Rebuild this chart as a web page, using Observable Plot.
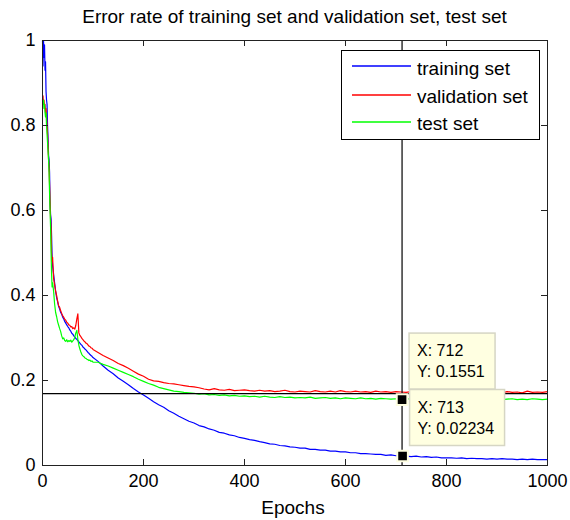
<!DOCTYPE html>
<html>
<head>
<meta charset="utf-8">
<script src="https://cdn.jsdelivr.net/npm/d3@7"></script>
<script src="https://cdn.jsdelivr.net/npm/@observablehq/plot@0.6"></script>
<style>
  body { margin: 0; background: #fff; font-family: "Liberation Sans", Arial, sans-serif; }
  #wrap { position: relative; width: 570px; height: 520px; overflow: hidden; }
  #title { position: absolute; left: 42px; width: 505px; top: 6px; text-align: center; font-size: 19px; line-height: 22px; color: #000; white-space: nowrap; }
  #chart { position: absolute; left: 0; top: 0; }
</style>
</head>
<body>
<div id="wrap">
  <div id="chart"></div>
  <div id="title"></div>
</div>
<script>
// ---------- data ----------
const titleText = "Error rate of training set and validation set, test set";
const xLabel = "Epochs";
const seriesNames = ["training set", "validation set", "test set"];
const seriesColors = ["#0000ff", "#ff0000", "#00ff00"];
const xTicks = [0, 200, 400, 600, 800, 1000];
const yTicks = [0, 0.2, 0.4, 0.6, 0.8, 1];

const epochs = [
  0,1,2,3,4,5,6,7,8,9,10,11,12,13,14,15,16,17,18,19,20,
  22,24,26,28,30,32,34,36,38,40,42,44,46,48,50,52,54,56,58,60,
  62,64,66,68,70,72,74,76,78,80,82,84,86,88,90,92,94,96,98,100,
  110,120,130,140,150,160,170,180,190,200,
  210,220,230,240,250,260,270,280,290,300,
  310,320,330,340,350,360,370,380,390,400,
  410,420,430,440,450,460,470,480,490,500,
  510,520,530,540,550,560,570,580,590,600,
  610,620,630,640,650,660,670,680,690,700,
  710,720,730,740,750,760,770,780,790,800,
  810,820,830,840,850,860,870,880,890,900,
  910,920,930,940,950,960,970,980,990,1000
];

const training = [
  1.0,0.94,1.0,0.96,0.99,0.93,0.95,0.88,0.86,0.85,0.80,0.77,0.73,0.72,0.69,0.62,0.59,0.58,0.54,0.49,0.47,
  0.45,0.43,0.41,0.395,0.385,0.374,0.368,0.36,0.356,0.349,
  0.345,0.339,0.335,0.331,0.327,0.324,0.319,0.316,0.311,0.309,
  0.305,0.302,0.299,0.297,0.294,0.291,0.288,0.285,0.283,0.279,
  0.277,0.274,0.272,0.269,0.266,0.264,0.261,0.259,0.257,0.254,
  0.245,0.234,0.224,0.216,0.206,0.198,0.190,0.181,0.173,0.166,
  0.158,0.150,0.143,0.137,0.129,0.123,0.116,0.110,0.104,0.100,
  0.094,0.091,0.086,0.083,0.078,0.076,0.072,0.070,0.066,0.064,
  0.061,0.059,0.056,0.054,0.051,0.050,0.047,0.046,0.044,0.043,
  0.041,0.041,0.038,0.038,0.036,0.036,0.034,0.034,0.032,0.032,
  0.030,0.030,0.028,0.028,0.027,0.026,0.026,0.024,0.025,0.023,
  0.023,0.022,0.021,0.022,0.020,0.021,0.019,0.020,0.018,0.018,
  0.018,0.017,0.018,0.016,0.017,0.016,0.016,0.015,0.016,0.015,
  0.016,0.015,0.015,0.014,0.015,0.014,0.015,0.014,0.014,0.014
];

const validation = [
  0.86,0.87,0.85,0.86,0.84,0.85,0.83,0.84,0.82,0.80,0.78,0.75,0.72,0.70,0.66,0.62,0.58,0.56,0.50,0.48,0.49,
  0.44,0.425,0.41,0.40,0.387,0.376,0.372,0.364,0.358,0.352,
  0.349,0.344,0.342,0.337,0.335,0.331,0.330,0.326,0.327,0.322,
  0.324,0.321,0.330,0.345,0.357,0.312,0.306,0.303,0.299,0.296,
  0.293,0.291,0.288,0.287,0.284,0.281,0.280,0.277,0.276,0.273,
  0.266,0.259,0.253,0.247,0.240,0.235,0.229,0.222,0.215,0.210,
  0.203,0.199,0.198,0.195,0.193,0.192,0.190,0.188,0.186,0.185,
  0.183,0.180,0.178,0.181,0.178,0.177,0.179,0.176,0.177,0.178,
  0.176,0.175,0.177,0.175,0.176,0.174,0.175,0.177,0.174,0.173,
  0.175,0.174,0.173,0.176,0.174,0.173,0.175,0.173,0.176,0.174,
  0.173,0.175,0.173,0.174,0.172,0.175,0.173,0.174,0.172,0.174,
  0.173,0.172,0.174,0.172,0.173,0.175,0.172,0.173,0.172,0.174,
  0.172,0.173,0.171,0.174,0.172,0.173,0.171,0.174,0.172,0.173,
  0.171,0.174,0.172,0.173,0.171,0.175,0.172,0.173,0.172,0.174
];

const test = [
  0.86,0.85,0.86,0.84,0.85,0.83,0.82,0.83,0.80,0.78,0.76,0.74,0.72,0.69,0.64,0.60,0.56,0.50,0.45,0.42,0.43,
  0.41,0.38,0.36,0.35,0.338,0.330,0.322,0.315,0.305,0.298,
  0.300,0.294,0.292,0.296,0.291,0.294,0.292,0.295,0.290,0.293,
  0.296,0.302,0.312,0.318,0.297,0.283,0.274,0.267,0.261,0.258,
  0.256,0.253,0.252,0.250,0.249,0.247,0.248,0.245,0.246,0.243,
  0.243,0.238,0.234,0.229,0.224,0.219,0.214,0.209,0.203,0.198,
  0.193,0.189,0.184,0.181,0.178,0.175,0.174,0.172,0.171,0.170,
  0.168,0.169,0.166,0.167,0.165,0.166,0.164,0.165,0.163,0.164,
  0.162,0.163,0.161,0.163,0.161,0.160,0.162,0.160,0.161,0.159,
  0.160,0.159,0.161,0.158,0.159,0.160,0.158,0.159,0.157,0.159,
  0.158,0.157,0.159,0.157,0.158,0.156,0.158,0.157,0.156,0.157,
  0.155,0.157,0.156,0.155,0.157,0.156,0.155,0.157,0.156,0.155,
  0.157,0.156,0.155,0.156,0.157,0.155,0.156,0.155,0.157,0.156,
  0.155,0.156,0.157,0.155,0.156,0.155,0.157,0.156,0.155,0.156
];

// crosshair and data tips
const crossX = [712];
const crossY = [0.169];
const tipX = [712, 713];
const tipY = [0.1551, 0.02234];

// ---------- layout ----------
const W = 570, H = 520, ML = 42, MR = 23, MT = 40, MB = 55;
const FW = W - ML - MR, FH = H - MT - MB, TICK = 6;
const FONT = '"Liberation Sans", Arial, sans-serif';

function tipMark(index, scales) {
  const g = d3.create("svg:g")
    .attr("font-size", 16).attr("font-family", FONT)
    .attr("fill", "#000").attr("text-anchor", "start");
  tipX.forEach((x, i) => {
    const px = scales.x(x), py = scales.y(tipY[i]);
    const gg = g.append("g").attr("class", "tip").attr("transform", `translate(${px + 7.5},${py - 66})`);
    gg.append("rect").attr("width", 86).attr("height", 56)
      .attr("fill", "#ffffe1").attr("stroke", "#d6d6c4").attr("stroke-width", 1.5);
    gg.append("text").attr("x", 8).attr("y", 23).attr("text-anchor", "start").text(`X: ${x}`);
    gg.append("text").attr("x", 8).attr("y", 44).attr("text-anchor", "start").text(`Y: ${tipY[i]}`);
  });
  return g.node();
}

// legend box in the upper right of the frame
function legendMark() {
  const g = d3.create("svg:g")
    .attr("font-size", 19).attr("font-family", FONT)
    .attr("text-anchor", "start");
  g.append("rect").attr("x", 341.5).attr("y", 50.5).attr("width", 198).attr("height", 89)
    .attr("fill", "white").attr("stroke", "black").attr("stroke-width", 1);
  const lineY = [66, 95, 122], textY = [75, 103, 130];
  seriesNames.forEach((name, k) => {
    g.append("line").attr("x1", 352).attr("x2", 411).attr("y1", lineY[k]).attr("y2", lineY[k])
      .attr("stroke", seriesColors[k]).attr("stroke-width", 1.3);
    g.append("text").attr("x", 417).attr("y", textY[k]).attr("fill", "black").text(name);
  });
  return g.node();
}

const series = [training, validation, test];

const chart = Plot.plot({
  width: W, height: H,
  marginLeft: ML, marginRight: MR, marginTop: MT, marginBottom: MB,
  style: { fontFamily: FONT, background: "white", color: "black", overflow: "visible" },
  x: { domain: [0, 1000], label: null },
  y: { domain: [0, 1], label: null },
  marks: [
    Plot.axisX({ ticks: xTicks, tickSize: 0, tickPadding: 9, fontSize: 18, tickFormat: d => String(d), label: null }),
    Plot.axisY({ ticks: yTicks, tickSize: 0, tickPadding: 7, fontSize: 18, tickFormat: d => String(d), label: null }),
    ...series.map((s, k) => Plot.line(s, { x: epochs, y: s, stroke: seriesColors[k], strokeWidth: 1.2 })),
    Plot.ruleX(crossX, { x: d => d, stroke: "black", strokeWidth: 1.2 }),
    Plot.ruleY(crossY, { y: d => d, stroke: "black", strokeWidth: 1.2 }),
    Plot.ruleX(xTicks, { x: d => d, insetTop: FH - TICK, stroke: "#222" }),
    Plot.ruleX(xTicks, { x: d => d, insetBottom: FH - TICK, stroke: "#222" }),
    Plot.ruleY(yTicks, { y: d => d, insetRight: FW - TICK, stroke: "#222" }),
    Plot.ruleY(yTicks, { y: d => d, insetLeft: FW - TICK, stroke: "#222" }),
    Plot.frame({ stroke: "#222" }),
    Plot.text([xLabel], { text: d => d, frameAnchor: "bottom", dy: 48, dx: -2, lineAnchor: "bottom", fontSize: 19 }),
    Plot.dot(tipX, { x: tipX, y: tipY, symbol: "square", r: 6, fill: "black", stroke: "#ffffe1", strokeWidth: 2 }),
    tipMark,
    legendMark
  ]
});
document.getElementById("chart").appendChild(chart);

// size data tip boxes to their text
d3.select(chart).selectAll(".tip").each(function () {
  const g = d3.select(this);
  let w = 0;
  g.selectAll("text").each(function () { w = Math.max(w, this.getComputedTextLength()); });
  g.select("rect").attr("width", Math.round(w + 18));
});

// title
document.getElementById("title").textContent = titleText;
</script>
</body>
</html>
